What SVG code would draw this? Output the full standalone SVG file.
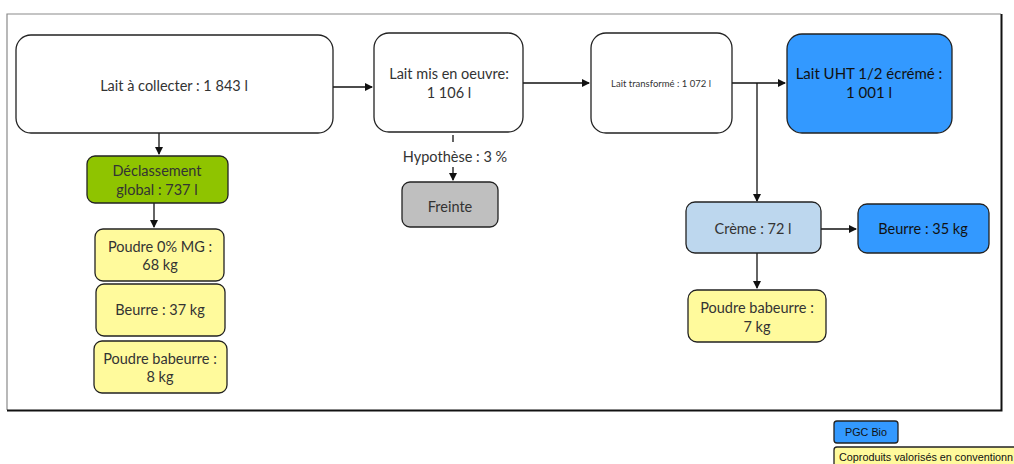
<svg xmlns="http://www.w3.org/2000/svg" width="1014" height="464" viewBox="0 0 1014 464">
<style>
.n{stroke:#222;stroke-width:1.3}
.t{font-family:Lato,"Open Sans",sans-serif;font-size:14.5px;fill:#333;text-anchor:middle}
.c{stroke:#111;stroke-width:1.3;fill:none}
.w{fill:#fff}.y{fill:#FFFA9C}.b{fill:#3399FF}
.lg{font-family:"Liberation Sans",Arial,sans-serif;font-size:10.8px;fill:#111}
</style>
<defs>
<marker id="a" markerWidth="8" markerHeight="8" refX="7" refY="4" orient="auto" markerUnits="userSpaceOnUse">
<path d="M0,0 L8,4 L0,8 Z" fill="#111"/>
</marker>
</defs>
<rect width="1014" height="464" fill="#fff"/>
<path d="M7,410 V14 H1001" fill="none" stroke="#8a8a8a" stroke-width="1.2"/>
<path d="M7,410.5 H1001.5 V14" fill="none" stroke="#111" stroke-width="2"/>

<g id="connectors">
<path class="c" d="M333,87 H372" marker-end="url(#a)"/>
<path class="c" d="M523,83 H589" marker-end="url(#a)"/>
<path class="c" d="M732,83 H785" marker-end="url(#a)"/>
<path class="c" d="M757,83 V201" marker-end="url(#a)"/>
<path class="c" d="M821,229 H856" marker-end="url(#a)"/>
<path class="c" d="M757,253 V288" marker-end="url(#a)"/>
<path class="c" d="M159,133 V154" marker-end="url(#a)"/>
<path class="c" d="M154,203 V227" marker-end="url(#a)"/>
<path class="c" d="M453,135 V142"/>
<path class="c" d="M453,167 V180" marker-end="url(#a)"/>
</g>

<g id="lait-collecter"><rect class="n w" x="16" y="35" width="317" height="98" rx="15"/><text class="t" x="174" y="91">Lait à collecter : 1 843 l</text></g>
<g id="lait-mis"><rect class="n w" x="374" y="33" width="149" height="99" rx="15"/><text class="t" x="449" y="79">Lait mis en oeuvre:</text><text class="t" x="449" y="98">1 106 l</text></g>
<g id="lait-transforme"><rect class="n w" x="591" y="33" width="141" height="100" rx="15"/><text class="t" x="661" y="87" style="font-size:9.5px">Lait transformé : 1 072 l</text></g>
<g id="lait-uht"><rect class="n b" x="787" y="34" width="165" height="99" rx="15"/><text class="t" x="869" y="79" style="font-size:15px;fill:#111">Lait UHT 1/2 écrémé :</text><text class="t" x="869" y="98" style="font-size:15px;fill:#111">1 001 l</text></g>
<g id="creme"><rect class="n" fill="#BDD7EE" x="686" y="202" width="135" height="51" rx="9"/><text class="t" x="753" y="234">Crème : 72 l</text></g>
<g id="beurre-35"><rect class="n b" x="858" y="204" width="131" height="49" rx="9"/><text class="t" x="923" y="234" style="fill:#111">Beurre : 35 kg</text></g>
<g id="poudre-7"><rect class="n y" x="688" y="290" width="138" height="52" rx="9"/><text class="t" x="757" y="313">Poudre babeurre :</text><text class="t" x="757" y="332">7 kg</text></g>
<g id="declassement"><rect class="n" fill="#8FC400" x="87" y="156" width="141" height="47" rx="8"/><text class="t" x="157" y="176">Déclassement</text><text class="t" x="157" y="195">global : 737 l</text></g>
<g id="poudre-0"><rect class="n y" x="95" y="229" width="129" height="52" rx="8"/><text class="t" x="160" y="252">Poudre 0% MG :</text><text class="t" x="160" y="270">68 kg</text></g>
<g id="beurre-37"><rect class="n y" x="96" y="284" width="129" height="52" rx="8"/><text class="t" x="160" y="315">Beurre : 37 kg</text></g>
<g id="poudre-8"><rect class="n y" x="94" y="341" width="133" height="52" rx="8"/><text class="t" x="160" y="364">Poudre babeurre :</text><text class="t" x="160" y="382">8 kg</text></g>
<g id="hypothese"><text class="t" x="455" y="162">Hypothèse : 3 %</text></g>
<g id="freinte"><rect class="n" fill="#BFBFBF" x="402" y="182" width="96" height="45" rx="8"/><text class="t" x="450" y="212">Freinte</text></g>

<g id="legend-pgc"><rect class="n b" x="834" y="421" width="64" height="22" rx="3"/><text class="lg" x="866" y="436" text-anchor="middle">PGC Bio</text></g>
<g id="legend-coproduits"><rect class="n y" x="834" y="447" width="200" height="24" rx="3"/><text class="lg" x="839" y="461">Coproduits valorisés en conventionn</text></g>
</svg>
